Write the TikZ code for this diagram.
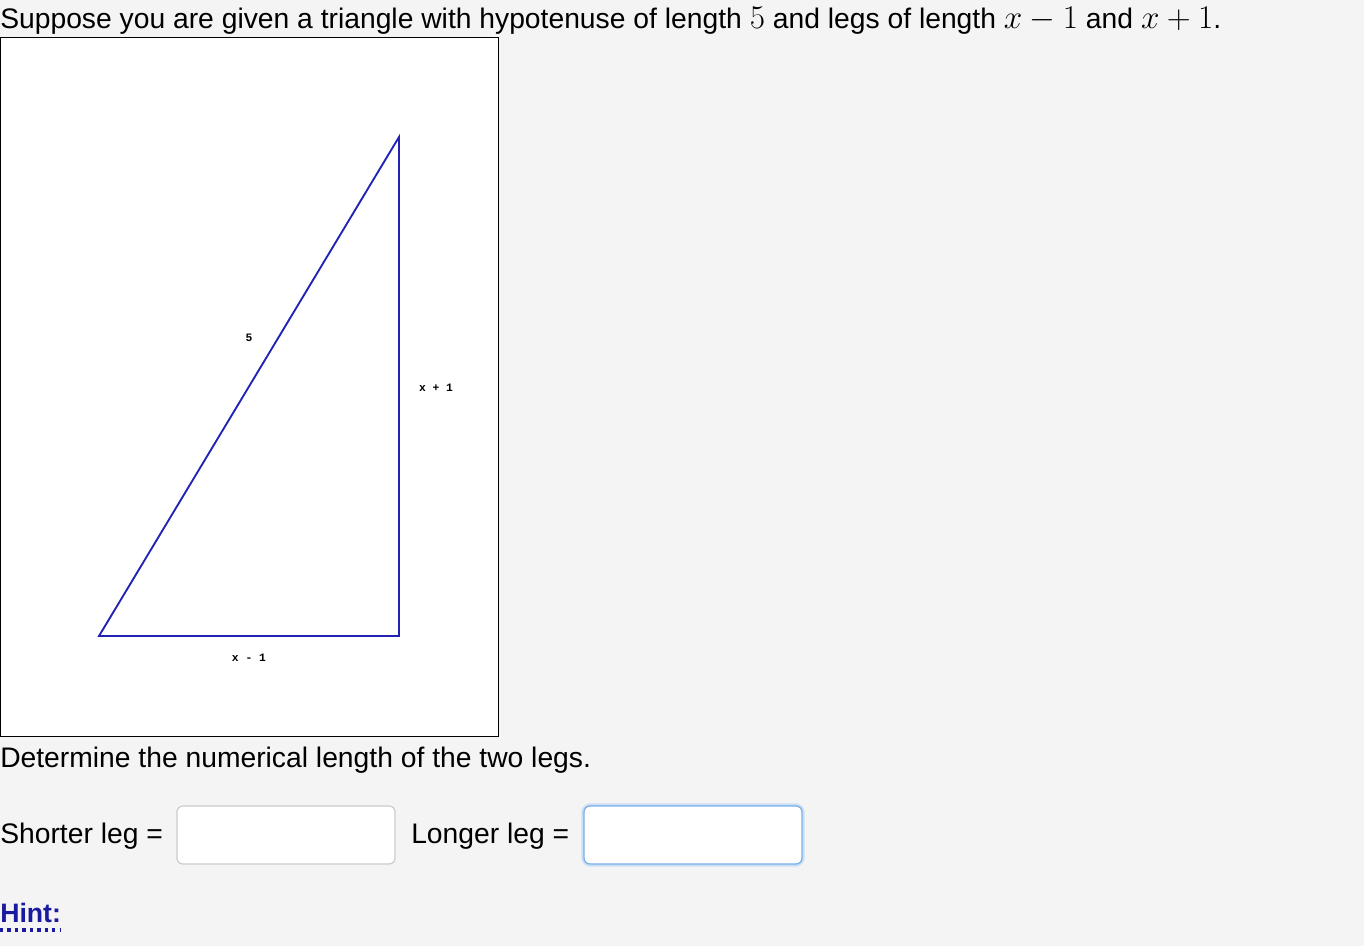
\documentclass[tikz,border=0pt]{standalone}
\usepackage{fontspec}
\setmainfont{Liberation Sans}
\newfontfamily\labmono{Liberation Mono}
\definecolor{pagebg}{HTML}{F4F4F4}
\definecolor{triblue}{HTML}{2222B4}
\definecolor{hintblue}{HTML}{1A1AA0}
\definecolor{boxgray}{HTML}{CCCCCC}
\definecolor{focusblue}{HTML}{78AEE8}
\newcommand{\mymath}[1]{{\fontsize{25}{28}\selectfont$#1$}}
\begin{document}
\begin{tikzpicture}[x=0.75pt,y=-0.75pt,
  txt/.style={inner sep=0pt,anchor=base west,font=\fontsize{21.2}{24}\selectfont},
  lab/.style={inner sep=0pt,font=\labmono\bfseries\fontsize{8.5}{9}\selectfont},
  inbox/.style={draw=boxgray,fill=white,rounded corners=4.5pt,line width=0.9pt}]
\fill[pagebg] (0,0) rectangle (1364,946);
\useasboundingbox (0,0) rectangle (1364,946);
% header
\node[txt] (head) at (0,28) {Suppose you are given a triangle with hypotenuse of length \mymath{5} and legs of length \mymath{x-1} and \mymath{x+1}.};
% figure panel
\draw[fill=white,draw=black,line width=0.75pt] (0,37.5) rectangle (498.5,736.5);
\coordinate (A) at (99,636);
\coordinate (B) at (399,636);
\coordinate (C) at (399,137);
\draw[triblue,line width=1.4pt,line join=miter] (A) -- (B) -- (C) -- cycle;
\node[lab] (l5) at (249,338) {5};
\node[lab] (lp) at (436,388) {x + 1};
\node[lab] (lm) at (249,658) {x - 1};
% question
\node[txt] (det) at (0,767) {Determine the numerical length of the two legs.};
\node[txt] (short) at (0,843) {Shorter leg =};
\draw[inbox] (177,806) rectangle (395,864);
\node[txt] (long) at (411,843) {Longer leg =};
\draw[draw=focusblue!40,line width=4pt,rounded corners=5pt] (584,806) rectangle (802,864);
\draw[inbox,draw=focusblue] (584,806) rectangle (802,864);
% hint
\node[txt,text=hintblue,font=\bfseries\fontsize{20}{24}\selectfont] (hint) at (0,922) {Hint:};
\draw[hintblue,line width=2.4pt,dash pattern=on 2.4pt off 3.2pt] (0,930) -- (hint.base east |- 0,930);
\end{tikzpicture}
\end{document}
